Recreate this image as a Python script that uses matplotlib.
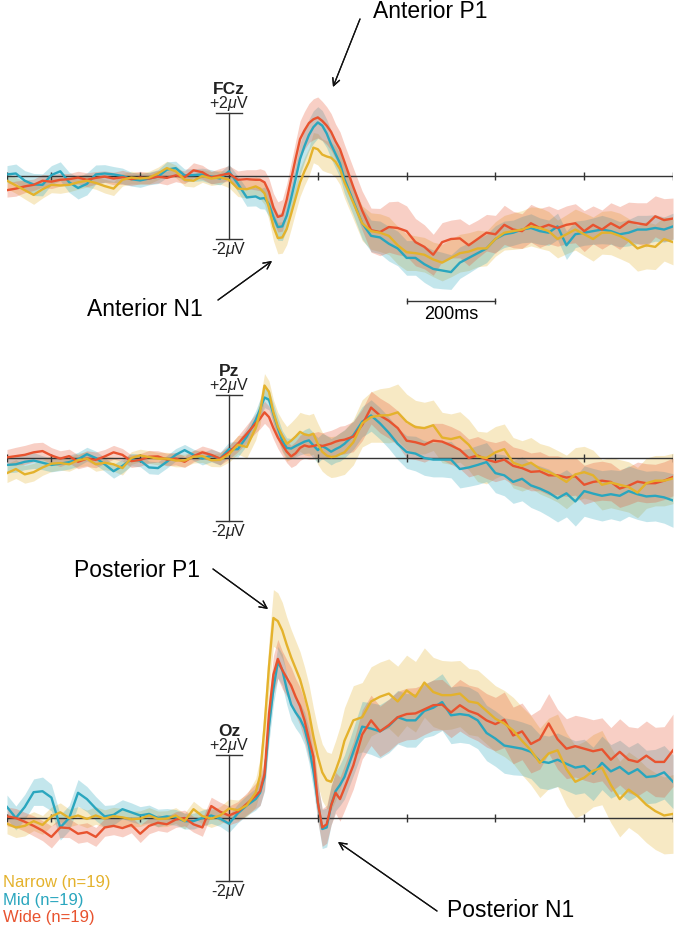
import numpy as np
import matplotlib.pyplot as plt

plt.rcParams['font.family'] = ['Liberation Sans', 'DejaVu Sans']
plt.rcParams['mathtext.fontset'] = 'custom'
plt.rcParams['mathtext.rm'] = 'Liberation Sans'
plt.rcParams['mathtext.it'] = 'Liberation Sans:italic'

# time axis (ms): 20ms steps, 10ms steps around the early components
times = np.r_[np.arange(-500, 60, 20), np.arange(60, 260, 10), np.arange(260, 1001, 20)]

# ---- FCz (uV) ----
fcz_narrow = [-0.15, -0.3, -0.45, -0.6, -0.42, -0.28, -0.3, -0.28, -0.2, -0.15, -0.22, -0.32, -0.4, -0.12,
              -0.05, -0.08, -0.05, 0.08, 0.25, 0.15, -0.12, -0.15, 0.0, -0.08, -0.04, -0.12, -0.4, -0.42,
              -0.33, -0.4, -0.55, -1.0, -1.6, -1.97, -1.95, -1.68, -1.2, -0.7, -0.2, 0.15, 0.45, 0.9, 0.85,
              0.68, 0.62, 0.58, 0.45, 0.22,
              -0.2, -0.85, -1.5, -1.75, -1.8, -1.9, -2.2, -2.42, -2.45, -2.5, -2.65, -2.75, -2.6, -2.45, -2.4,
              -2.3, -2.3, -2.0, -1.8, -1.75, -1.7, -1.6, -1.65, -1.75, -2.0, -1.85, -1.7, -1.85, -2.0, -1.8,
              -1.8, -1.9, -2.05, -2.3, -2.2, -2.25, -2.0, -2.1]
fcz_mid = [0.05, 0.08, -0.15, -0.27, -0.28, 0.03, 0.15, -0.2, -0.38, -0.25, 0.05, 0.08, 0.05, 0.0, -0.1,
           -0.14, -0.08, -0.02, 0.2, 0.25, 0.02, 0.03, 0.05, -0.02, -0.08, 0.15, -0.25, -0.68,
           -0.65, -0.72, -0.7, -0.9, -1.3, -1.62, -1.6, -1.26, -0.7, -0.1, 0.54, 0.95, 1.3, 1.55, 1.7, 1.6,
           1.35, 1.0, 0.7, 0.4,
           -0.1, -0.8, -1.5, -1.9, -1.95, -2.15, -2.3, -2.6, -2.6, -2.8, -2.95, -3.0, -3.05, -2.75, -2.6,
           -2.45, -2.3, -2.0, -1.85, -1.8, -1.7, -1.65, -1.75, -1.8, -1.6, -2.2, -1.85, -1.8, -1.75, -1.7,
           -1.75, -1.85, -1.8, -1.7, -1.7, -1.65, -1.7, -1.6]
fcz_wide = [-0.45, -0.4, -0.33, -0.28, -0.15, -0.18, -0.12, -0.1, -0.05, -0.12, -0.06, -0.02, -0.08, -0.04,
            -0.1, -0.05, -0.08, -0.02, -0.06, 0.02, -0.04, 0.18, 0.12, -0.05, 0.02, 0.08, -0.12, -0.1,
            -0.12, -0.12, -0.2, -0.5, -1.0, -1.3, -1.25, -0.75, -0.1, 0.55, 1.17, 1.45, 1.68, 1.8, 1.86,
            1.75, 1.6, 1.4, 1.1, 0.85,
            0.45, -0.35, -1.1, -1.72, -1.78, -1.62, -1.65, -1.75, -2.1, -2.25, -2.5, -2.1, -2.0, -1.98, -2.2,
            -2.0, -1.8, -1.85, -1.55, -1.7, -1.75, -1.5, -1.65, -1.55, -1.65, -1.55, -1.5, -1.75, -1.55,
            -1.7, -1.5, -1.65, -1.45, -1.5, -1.55, -1.28, -1.4, -1.35]
fcz_narrow_se = [0.25, 0.25, 0.28, 0.3, 0.28, 0.25, 0.25, 0.22, 0.22, 0.2, 0.2, 0.22, 0.22, 0.2, 0.2, 0.18,
                 0.2, 0.2, 0.22, 0.2, 0.2, 0.2, 0.2, 0.22, 0.22, 0.25, 0.25, 0.28,
                 0.3, 0.32, 0.35, 0.4, 0.45, 0.5, 0.5, 0.5, 0.48, 0.45, 0.45, 0.45, 0.45, 0.48, 0.5, 0.5, 0.5,
                 0.5, 0.5, 0.5,
                 0.5, 0.52, 0.55, 0.58, 0.6, 0.6, 0.6, 0.58, 0.55, 0.55, 0.55, 0.58, 0.6, 0.6, 0.6, 0.58, 0.55,
                 0.55, 0.55, 0.58, 0.6, 0.62, 0.65, 0.62, 0.6, 0.62, 0.65, 0.68, 0.7, 0.68, 0.7, 0.72, 0.7,
                 0.72, 0.75, 0.72, 0.7, 0.72]
fcz_mid_se = [0.28, 0.3, 0.32, 0.35, 0.35, 0.3, 0.3, 0.32, 0.35, 0.35, 0.3, 0.28, 0.25, 0.25, 0.22, 0.22,
              0.2, 0.22, 0.25, 0.22, 0.2, 0.2, 0.2, 0.22, 0.2, 0.22, 0.25, 0.28,
              0.3, 0.32, 0.35, 0.38, 0.4, 0.42, 0.45, 0.45, 0.45, 0.48, 0.5, 0.5, 0.5, 0.52, 0.5, 0.48, 0.45,
              0.45, 0.45, 0.45,
              0.45, 0.45, 0.5, 0.5, 0.52, 0.55, 0.55, 0.55, 0.55, 0.58, 0.6, 0.58, 0.55, 0.5, 0.48, 0.45,
              0.45, 0.42, 0.42, 0.4, 0.42, 0.45, 0.42, 0.4, 0.42, 0.45, 0.42, 0.4, 0.42, 0.45, 0.42, 0.4,
              0.42, 0.45, 0.45, 0.42, 0.4, 0.42]
fcz_wide_se = [0.22, 0.24, 0.2, 0.18, 0.2, 0.22, 0.2, 0.18, 0.2, 0.22, 0.2, 0.18, 0.2, 0.22, 0.2, 0.2, 0.18,
               0.2, 0.22, 0.2, 0.2, 0.24, 0.22, 0.2, 0.22, 0.25, 0.28, 0.3,
               0.32, 0.35, 0.38, 0.42, 0.45, 0.48, 0.5, 0.5, 0.52, 0.55, 0.58, 0.6, 0.62, 0.65, 0.65, 0.62,
               0.6, 0.58, 0.55, 0.55,
               0.55, 0.6, 0.62, 0.7, 0.75, 0.8, 0.85, 0.8, 0.75, 0.7, 0.65, 0.62, 0.6, 0.62, 0.65, 0.6, 0.58,
               0.6, 0.62, 0.58, 0.55, 0.6, 0.62, 0.6, 0.58, 0.6, 0.62, 0.65, 0.6, 0.62, 0.65, 0.68, 0.62,
               0.65, 0.7, 0.65, 0.68, 0.65]

# ---- Pz (uV) ----
pz_narrow = [-0.48, -0.35, -0.52, -0.45, -0.3, -0.18, -0.16, -0.2, -0.07, -0.02, -0.2, -0.15, -0.2, -0.32,
             0.0, 0.08, 0.03, -0.02, -0.02, -0.08, -0.08, 0.04, 0.06, -0.07, -0.06, 0.12, 0.42, 0.35,
             0.95, 1.46, 2.3, 2.1, 1.45, 1.0, 0.7, 0.45, 0.55, 0.68, 0.83, 0.75, 0.72, 0.77, 0.45, 0.2, 0.08,
             0.03, 0.05, 0.12,
             0.18, 0.5, 1.1, 1.3, 1.35, 1.36, 1.45, 1.15, 0.98, 0.95, 1.04, 0.65, 0.6, 0.67, 0.42, 0.05, 0.0,
             0.18, 0.28, -0.15, -0.25, -0.15, -0.34, -0.44, -0.58, -0.76, -0.52, -0.45, -0.55, -0.85, -0.78,
             -0.85, -0.92, -1.1, -0.8, -0.72, -0.72, -0.65]
pz_mid = [-0.22, -0.2, -0.12, -0.08, -0.15, -0.22, -0.18, -0.13, -0.04, 0.12, 0.0, -0.2, -0.42, -0.25, -0.05,
          -0.08, -0.3, -0.32, -0.12, 0.1, 0.25, 0.1, -0.02, 0.08, -0.02, 0.28, 0.28, 0.68,
          1.2, 1.55, 1.92, 1.85, 1.4, 0.95, 0.55, 0.32, 0.3, 0.38, 0.45, 0.52, 0.56, 0.4, 0.25, 0.38, 0.3,
          0.2, 0.28, 0.35,
          0.45, 0.72, 1.15, 1.35, 1.1, 0.8, 0.45, 0.19, 0.14, 0.0, -0.05, -0.05, -0.05, -0.35, -0.3, -0.22,
          -0.13, -0.48, -0.55, -0.76, -0.66, -0.87, -0.97, -1.1, -1.28, -1.12, -1.38, -1.05, -1.13, -1.2,
          -1.15, -1.2, -1.05, -1.15, -1.22, -1.2, -1.25, -1.35]
pz_wide = [0.02, 0.06, 0.1, 0.18, 0.22, 0.08, -0.02, 0.06, -0.12, -0.02, -0.06, 0.05, 0.18, 0.1, -0.1, -0.06,
           0.04, 0.05, -0.05, -0.02, -0.12, 0.06, 0.18, 0.1, -0.02, 0.18, 0.45, 0.77,
           1.1, 1.25, 1.45, 1.3, 0.95, 0.65, 0.42, 0.2, 0.05, 0.15, 0.32, 0.4, 0.36, 0.38, 0.42, 0.38, 0.42,
           0.46, 0.52, 0.56,
           0.58, 0.68, 1.05, 1.6, 1.35, 1.18, 0.95, 0.55, 0.5, 0.42, 0.55, 0.52, 0.4, 0.26, 0.0, 0.08, -0.05,
           -0.13, -0.05, -0.25, -0.32, -0.44, -0.42, -0.55, -0.55, -0.62, -0.58, -0.85, -0.76, -0.72, -0.76,
           -0.97, -0.88, -0.75, -0.8, -0.8, -0.72, -0.6]
pz_narrow_se = [0.3, 0.3, 0.28, 0.28, 0.25, 0.25, 0.22, 0.22, 0.22, 0.22, 0.22, 0.22, 0.22, 0.22, 0.2, 0.2,
                0.2, 0.2, 0.2, 0.2, 0.2, 0.2, 0.2, 0.2, 0.22, 0.25, 0.3, 0.35,
                0.38, 0.4, 0.38, 0.35, 0.4, 0.45, 0.5, 0.55, 0.58, 0.6, 0.62, 0.65, 0.65, 0.65, 0.65, 0.62,
                0.62, 0.65, 0.65, 0.68,
                0.7, 0.72, 0.75, 0.8, 0.85, 0.88, 0.9, 0.88, 0.85, 0.82, 0.8, 0.8, 0.8, 0.8, 0.8, 0.8, 0.82,
                0.82, 0.8, 0.8, 0.8, 0.8, 0.8, 0.82, 0.82, 0.85, 0.85, 0.82, 0.8, 0.8, 0.8, 0.8, 0.8, 0.8,
                0.8, 0.8, 0.8, 0.8]
pz_mid_se = [0.25, 0.25, 0.25, 0.25, 0.22, 0.22, 0.22, 0.22, 0.22, 0.22, 0.22, 0.22, 0.22, 0.22, 0.2, 0.2,
             0.2, 0.2, 0.2, 0.2, 0.18, 0.18, 0.2, 0.2, 0.2, 0.22, 0.25, 0.28,
             0.3, 0.32, 0.32, 0.32, 0.32, 0.32, 0.32, 0.32, 0.32, 0.35, 0.35, 0.38, 0.4, 0.4, 0.4, 0.4, 0.42,
             0.42, 0.42, 0.45,
             0.45, 0.45, 0.48, 0.5, 0.5, 0.5, 0.5, 0.52, 0.55, 0.55, 0.55, 0.55, 0.58, 0.6, 0.6, 0.62, 0.62,
             0.62, 0.65, 0.68, 0.7, 0.7, 0.72, 0.75, 0.75, 0.75, 0.78, 0.8, 0.8, 0.8, 0.78, 0.8, 0.8, 0.8,
             0.8, 0.8, 0.82, 0.85]
pz_wide_se = [0.25, 0.28, 0.3, 0.3, 0.28, 0.25, 0.25, 0.22, 0.22, 0.25, 0.25, 0.22, 0.22, 0.2, 0.2, 0.2, 0.2,
              0.18, 0.2, 0.2, 0.18, 0.18, 0.2, 0.2, 0.2, 0.22, 0.25, 0.28,
              0.3, 0.32, 0.35, 0.35, 0.35, 0.35, 0.35, 0.35, 0.35, 0.38, 0.4, 0.4, 0.4, 0.42, 0.42, 0.42, 0.42,
              0.42, 0.42, 0.45,
              0.45, 0.48, 0.5, 0.52, 0.55, 0.55, 0.55, 0.55, 0.55, 0.55, 0.55, 0.58, 0.6, 0.6, 0.6, 0.6, 0.6,
              0.62, 0.62, 0.6, 0.6, 0.6, 0.62, 0.62, 0.62, 0.6, 0.6, 0.62, 0.62, 0.62, 0.6, 0.6, 0.6, 0.62,
              0.62, 0.6, 0.6, 0.6]

# ---- Oz (uV) ----
oz_narrow = [-0.18, -0.3, -0.25, -0.1, -0.22, 0.05, 0.18, 0.0, 0.08, -0.03, 0.08, -0.02, 0.06, 0.02, -0.04,
             -0.02, 0.08, -0.03, -0.02, 0.08, -0.1, 0.28, 0.06, -0.02, 0.08, 0.3, 0.25, 0.4,
             0.8, 1.35, 2.9, 4.8, 6.35, 6.25, 5.95, 5.5, 5.1, 4.75, 4.4, 3.9, 3.35, 2.6, 1.95, 1.45, 1.2, 1.15,
             1.5, 1.9,
             2.45, 3.1, 3.2, 3.7, 3.85, 3.95, 3.7, 4.05, 3.85, 4.3, 4.0, 3.9, 3.9, 3.95, 3.7, 3.65, 3.4, 3.15,
             3.0, 2.78, 2.45, 2.15, 1.75, 2.05, 2.15, 1.55, 1.15, 1.28, 1.5, 1.6, 1.05, 0.6, 0.9, 0.7, 0.42,
             0.22, 0.08, 0.13]
oz_mid = [0.35, 0.0, 0.35, 0.82, 0.85, 0.65, -0.3, 0.0, 0.8, 0.6, 0.3, 0.05, 0.1, 0.28, 0.18, 0.08, 0.13, 0.0,
          0.05, 0.02, -0.1, -0.1, 0.0, 0.08, -0.02, -0.18, 0.15, 0.4,
          0.6, 0.8, 1.3, 2.9, 4.1, 4.95, 4.7, 4.1, 3.6, 3.35, 3.15, 2.85, 2.3, 1.5, 0.5, -0.35, -0.3, 0.4,
          0.85, 1.05,
          1.3, 2.1, 2.9, 2.84, 2.75, 2.92, 3.2, 3.1, 3.1, 3.4, 3.5, 3.68, 3.26, 3.3, 3.26, 3.1, 2.7, 2.52,
          2.3, 2.25, 2.2, 2.1, 1.8, 1.75, 1.85, 1.72, 1.6, 1.65, 1.4, 1.75, 1.48, 1.62, 1.4, 1.55, 1.3,
          1.33, 1.45, 1.15]
oz_wide = [0.05, 0.0, -0.12, -0.25, -0.4, -0.6, -0.3, -0.32, -0.5, -0.45, -0.6, -0.3, -0.25, -0.32, -0.22,
           -0.5, -0.25, -0.15, -0.2, -0.05, 0.0, -0.2, -0.3, 0.38, 0.2, 0.08, 0.2, 0.45,
           0.7, 0.85, 1.4, 3.3, 4.55, 5.05, 4.7, 4.45, 4.2, 3.85, 3.55, 3.1, 2.5, 1.95, 0.5, -0.3, -0.2, 0.4,
           0.8, 0.6,
           0.95, 1.67, 2.65, 3.1, 2.75, 2.95, 3.2, 3.3, 3.32, 3.45, 3.58, 3.6, 3.35, 3.58, 3.4, 3.3, 3.1,
           2.98, 3.12, 2.62, 2.75, 2.35, 2.5, 3.0, 2.5, 2.2, 2.28, 2.2, 2.12, 2.18, 1.85, 2.1, 1.85, 1.78,
           1.98, 1.78, 1.78, 2.15]
oz_narrow_se = [0.32, 0.32, 0.32, 0.3, 0.3, 0.3, 0.3, 0.28, 0.28, 0.28, 0.28, 0.28, 0.28, 0.28, 0.25, 0.25,
                0.25, 0.25, 0.25, 0.25, 0.25, 0.25, 0.25, 0.28, 0.28, 0.3, 0.32, 0.35,
                0.45, 0.55, 0.65, 0.8, 0.9, 0.9, 0.9, 0.88, 0.88, 0.88, 0.88, 0.9, 0.9, 0.9, 0.9, 0.9, 0.9,
                0.9, 0.95, 1.0,
                1.05, 1.1, 1.1, 1.1, 1.1, 1.1, 1.12, 1.12, 1.12, 1.1, 1.1, 1.1, 1.08, 1.05, 1.05, 1.05, 1.05,
                1.05, 1.05, 1.05, 1.08, 1.1, 1.1, 1.12, 1.15, 1.15, 1.15, 1.15, 1.15, 1.18, 1.2, 1.2, 1.2,
                1.2, 1.2, 1.22, 1.22, 1.25]
oz_mid_se = [0.38, 0.38, 0.4, 0.42, 0.45, 0.42, 0.4, 0.4, 0.42, 0.4, 0.38, 0.35, 0.32, 0.3, 0.3, 0.28, 0.28,
             0.28, 0.25, 0.25, 0.25, 0.25, 0.25, 0.25, 0.25, 0.28, 0.3, 0.32,
             0.35, 0.4, 0.45, 0.5, 0.5, 0.5, 0.5, 0.5, 0.5, 0.5, 0.5, 0.52, 0.55, 0.58, 0.6, 0.62, 0.62, 0.62,
             0.62, 0.65,
             0.7, 0.75, 0.8, 0.82, 0.85, 0.85, 0.85, 0.85, 0.85, 0.85, 0.88, 0.9, 0.9, 0.9, 0.9, 0.9, 0.88,
             0.88, 0.88, 0.88, 0.85, 0.85, 0.85, 0.85, 0.85, 0.85, 0.85, 0.85, 0.85, 0.85, 0.85, 0.85, 0.85,
             0.85, 0.85, 0.85, 0.85, 0.85]
oz_wide_se = [0.3, 0.3, 0.3, 0.32, 0.32, 0.35, 0.32, 0.3, 0.3, 0.3, 0.3, 0.28, 0.28, 0.28, 0.25, 0.28, 0.25,
              0.25, 0.25, 0.25, 0.25, 0.25, 0.28, 0.28, 0.3, 0.3, 0.32, 0.35,
              0.4, 0.45, 0.5, 0.55, 0.6, 0.62, 0.6, 0.58, 0.58, 0.58, 0.6, 0.62, 0.62, 0.62, 0.6, 0.6, 0.6,
              0.62, 0.65, 0.7,
              0.72, 0.75, 0.78, 0.8, 0.8, 0.82, 0.82, 0.82, 0.82, 0.8, 0.8, 0.8, 0.8, 0.82, 0.82, 0.85, 0.85,
              0.85, 0.88, 0.9, 0.9, 0.92, 0.95, 0.95, 0.95, 0.95, 0.98, 1.0, 1.0, 1.0, 1.02, 1.05, 1.05,
              1.08, 1.1, 1.1, 1.12, 1.15]

conditions = ['Narrow (n=19)', 'Mid (n=19)', 'Wide (n=19)']
colors = ['#E4B22C', '#2AA6BE', '#E8532F']

W, H = 677, 929
PX = 31.5            # pixels per microvolt
X0, X1 = 7, 673      # pixel extent of -500 .. 1000 ms

fig = plt.figure(figsize=(W / 100, H / 100), dpi=100)


def fpos(x, y):
    return (x / W, 1 - y / H)


def panel(zero_px, lo, hi, name, means, ses):
    bot = zero_px - lo * PX
    top = zero_px - hi * PX
    ax = fig.add_axes([X0 / W, 1 - bot / H, (X1 - X0) / W, (bot - top) / H])
    ax.set_xlim(-500, 1000)
    ax.set_ylim(lo, hi)
    ax.axis('off')
    for m, s, c in zip(means, ses, colors):
        m = np.array(m)
        s = np.array(s)
        ax.fill_between(times, m - s, m + s, color=c, alpha=0.28, lw=0, zorder=1)
    # axes drawn by hand
    ax.plot([-500, 1000], [0, 0], color='#333333', lw=1.0, zorder=1.5)
    ax.vlines([-500, -400, -200, 200, 400, 600, 800, 1000], -0.13, 0.13, color='#333333', lw=1.0, zorder=1.5)
    ax.plot([0, 0], [-2, 2], color='#333333', lw=1.0, zorder=1.5)
    ax.plot([-30, 30], [2, 2], color='#333333', lw=1.0, zorder=1.5)
    ax.plot([-30, 30], [-2, -2], color='#333333', lw=1.0, zorder=1.5)
    for i in [1, 2, 0]:
        ax.plot(times, means[i], color=colors[i], lw=1.7, zorder=2)
    ax.text(0, 2.62, name, ha='center', va='baseline', fontsize=12.5, fontweight='bold', color='#222222')
    ax.text(0, 2.2, r'+2$\mu$V', ha='center', va='baseline', fontsize=11.5, color='#222222')
    ax.text(0, -2.29, r'-2$\mu$V', ha='center', va='center', fontsize=11.5, color='#222222')
    return ax


ax1 = panel(177, -4.6, 3.4, 'FCz', [fcz_narrow, fcz_mid, fcz_wide], [fcz_narrow_se, fcz_mid_se, fcz_wide_se])
ax2 = panel(459, -3.2, 3.6, 'Pz', [pz_narrow, pz_mid, pz_wide], [pz_narrow_se, pz_mid_se, pz_wide_se])
ax3 = panel(819, -3.5, 7.8, 'Oz', [oz_narrow, oz_mid, oz_wide], [oz_narrow_se, oz_mid_se, oz_wide_se])

# 200 ms scale bar
ax1.plot([400, 600], [-3.97, -3.97], color='#333333', lw=1.0)
ax1.vlines([400, 600], -4.07, -3.87, color='#333333', lw=1.0)
ax1.text(500, -4.38, '200ms', ha='center', va='center', fontsize=13)

# component labels
labels = ['Anterior P1', 'Anterior N1', 'Posterior P1', 'Posterior N1']
label_pos = [(430, 12), (145, 309), (137, 571), (511, 911)]
arrow_from = [(360, 20), (218, 301), (213, 570), (437, 912)]
arrow_to = [(333, 88), (272, 262), (268, 610), (338, 843)]
for lab, p, a, b in zip(labels, label_pos, arrow_from, arrow_to):
    fig.text(*fpos(*p), lab, ha='center', va='center', fontsize=16.5)
    fig.add_artist(plt.annotate('', xy=fpos(*b), xytext=fpos(*a), xycoords='figure fraction',
                                textcoords='figure fraction',
                                arrowprops=dict(arrowstyle='->', color='#111111', lw=0.9,
                                                mutation_scale=13, shrinkA=0, shrinkB=0)))

# legend as coloured text
for i, (lab, c) in enumerate(zip(conditions, colors)):
    fig.text(3 / W, 1 - (883 + 17.5 * i) / H, lab, color=c, ha='left', va='center', fontsize=12)

fig.savefig('out.png', dpi=100)
